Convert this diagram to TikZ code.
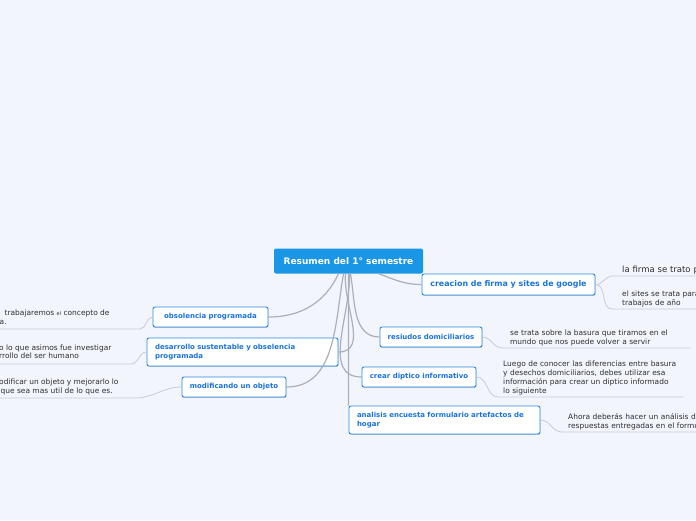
\documentclass[tikz,border=0pt]{standalone}
\usepackage{fontspec}
\setmainfont{DejaVu Sans}
\definecolor{canvas}{RGB}{243, 245, 253}
\definecolor{rootblue}{RGB}{26, 150, 230}
\definecolor{topicblue}{RGB}{45, 135, 225}
\definecolor{topictext}{RGB}{25, 115, 220}
\definecolor{branch}{RGB}{172, 175, 186}
\definecolor{twig}{RGB}{200, 203, 215}
\definecolor{leafink}{RGB}{45, 45, 50}
\usetikzlibrary{calc, shadows}

\begin{document}
\begin{tikzpicture}[x=1pt, y=-1pt,
    topic/.style={draw=topicblue, line width=0.9pt, fill=white, rounded corners=2pt,
      text=topictext, font=\fontsize{7}{9}\selectfont\bfseries, inner sep=0pt,
      drop shadow={shadow xshift=0.4pt, shadow yshift=-0.8pt, opacity=0.3, fill=topicblue!60!black}},
    leaf/.style={anchor=south west, align=left, text=leafink,
      font=\fontsize{7.45}{9}\selectfont, inner xsep=8pt, inner ysep=2pt},
    cut/.style={anchor=base west, text=leafink, font=\fontsize{7.45}{9}\selectfont, inner sep=0pt},
    branchline/.style={draw=branch, line width=1.2pt},
    twigline/.style={draw=twig, line width=0.8pt}]
                \useasboundingbox (0,0) rectangle (696,520);
                \fill[canvas] (0,0) rectangle (696,520);
                \clip (0,0) rectangle (696,520);

                % central topic
                \node[fill=rootblue, rounded corners=2pt, minimum width=149pt, minimum height=25pt, inner sep=0pt,
                  text=white, font=\fontsize{9}{10}\selectfont\bfseries] (root) at (348.5,261) {Resumen del 1° semestre};

                % main topics
                \node[topic, minimum width=173pt, minimum height=21pt, font=\fontsize{7.9}{9}\selectfont\bfseries] (firma) at (508.5,284.5) {creacion de firma y sites de google};
                \node[topic, minimum width=115pt, minimum height=20pt] (obsolencia) at (210.5,317) {obsolencia programada};
                \node[topic, minimum height=28pt, text width=175pt, align=left, inner xsep=8pt] (desarrollo) at (242.5,352) {desarrollo sustentable y obselencia\\programada};
                \node[topic, minimum width=104pt, minimum height=20pt] (modificando) at (234,387) {modificando un objeto};
                \node[topic, minimum width=102pt, minimum height=20pt] (residuos) at (431,337) {resiudos domiciliarios};
                \node[topic, minimum width=114pt, minimum height=20pt] (diptico) at (419,377) {crear diptico informativo};
                \node[topic, minimum height=28pt, text width=175pt, align=left, inner xsep=8pt] (analisis) at (444.5,420) {analisis encuesta formulario artefactos de\\hogar};

                \draw[branchline] ([xshift=-10pt]root.south) to[out=-115, in=0] (obsolencia.east);
                \draw[branchline] ([xshift=-3pt]root.south) to[out=-95, in=0] (desarrollo.east);
                \draw[branchline] ([xshift=-5pt]root.south) to[out=-100, in=0] (modificando.east);
                \draw[branchline] ([xshift=30pt]root.south) to[out=-20, in=180] (firma.west);
                \draw[branchline] ([xshift=2pt]root.south) to[out=-80, in=180] (residuos.west);
                \draw[branchline] ([xshift=1pt]root.south) to[out=-88, in=180] (diptico.west);
                \draw[branchline] (root.south) -- (analisis.north west);

                % notes on the right
                \node[leaf, inner xsep=9pt, text width=120pt, font=\fontsize{8.5}{9}\selectfont] (firmaNoteA) at (613,276) {la firma se trato pa};
                \node[leaf, inner xsep=10pt, text width=120pt] (firmaNoteB) at (612,309) {el sites se trata para\\trabajos de año};
                \node[leaf, text width=172pt] (residuosNote) at (502,348) {se trata sobre la basura que tiramos en el\\mundo que nos puede volver a servir};
                \node[leaf, inner xsep=5pt, text width=180pt] (dipticoNote) at (498,397) {Luego de conocer las diferencias entre basura\\y desechos domiciliarios, debes utilizar esa\\información para crear un diptico informado\\lo siguiente};
                \node[leaf, inner xsep=6pt, text width=170pt] (analisisNote) at (562,432) {Ahora deberás hacer un análisis d\\respuestas entregadas en el formu};

                \draw[twigline] (firma.east) to[out=0, in=180] (firmaNoteA.south west) -- (firmaNoteA.south east);
                \draw[twigline] (firma.east) to[out=0, in=180] (firmaNoteB.south west) -- (firmaNoteB.south east);
                \draw[twigline] (residuos.east) to[out=0, in=180] (residuosNote.south west) -- (residuosNote.south east);
                \draw[twigline] (diptico.east) to[out=0, in=180] (dipticoNote.south west) -- ([xshift=-5pt]dipticoNote.south east);
                \draw[twigline] (analisis.east) to[out=0, in=180] (analisisNote.south west) -- (analisisNote.south east);

                % notes on the left, cut by the edge
                \coordinate (obsTwig) at (140,329);
                \coordinate (obsEdge) at (0,329);
                \coordinate (desTwig) at (131,364);
                \coordinate (desEdge) at (0,364);
                \coordinate (modTwig) at (135,398);
                \coordinate (modEdge) at (0,398);
                \draw[twigline] (obsolencia.west) to[out=180, in=0] (obsTwig) -- (obsEdge);
                \draw[twigline] (desarrollo.west) to[out=180, in=0] (desTwig) -- (desEdge);
                \draw[twigline] (modificando.west) to[out=180, in=0] (modTwig) -- (modEdge);

                \node[cut] (obsNoteA) at (4.5,315.5) {trabajaremos {\fontsize{5}{5}\selectfont el} concepto de};
                \node[cut] (obsNoteB) at (-0.5,324.5) {a.};
                \node[cut] (desNoteA) at (-1,350.5) {o lo que asimos fue investigar};
                \node[cut] (desNoteB) at (-1,358.5) {rrollo del ser humano};
                \node[cut] (modNoteA) at (-1,384.5) {odificar un objeto y mejorarlo lo};
                \node[cut] (modNoteB) at (0.5,393.5) {que sea mas util de lo que es.};
\end{tikzpicture}
\end{document}
